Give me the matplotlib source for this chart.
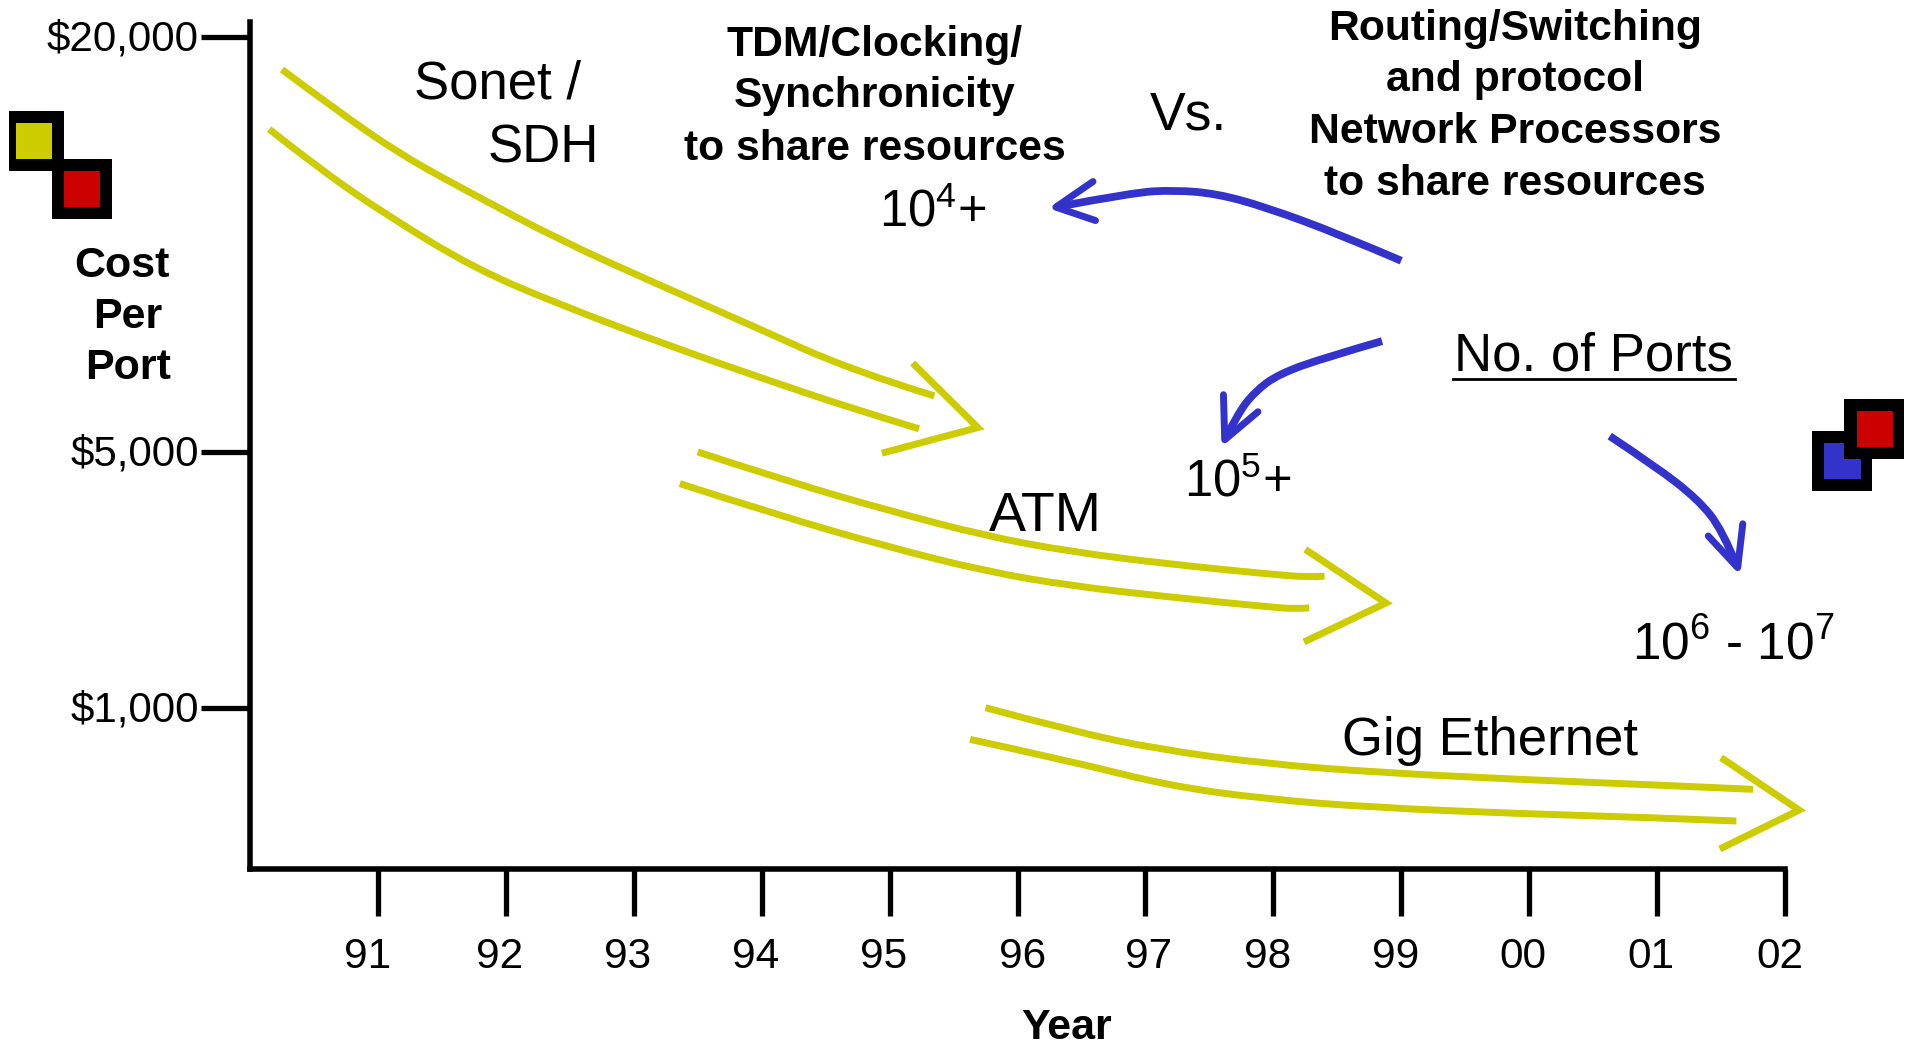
import matplotlib
matplotlib.use('Agg')
import matplotlib.pyplot as plt
from matplotlib.patches import Rectangle, PathPatch
from matplotlib.path import Path
from matplotlib.transforms import ScaledTranslation

plt.rcParams['font.family'] = ['Liberation Sans', 'DejaVu Sans']
plt.rcParams['mathtext.default'] = 'regular'

W, H = 1910, 1047
S = W / 1568

YELLOW = '#CCCC00'
BLUE = '#3333CC'
RED = '#CC0000'

# Axis data
years = [1991, 1992, 1993, 1994, 1995, 1996, 1997, 1998, 1999, 2000, 2001, 2002]
year_labels = ['91', '92', '93', '94', '95', '96', '97', '98', '99', '00', '01', '02']
cost_levels = [132, 342, 683]
cost_labels = ['$1,000', '$5,000', '$20,000']

# Yellow bands: (year, level above the x axis)
sonet_x1 = [1990.25, 1990.67, 1991.18, 1991.70, 1992.42, 1993.18, 1993.94, 1994.70, 1995.35]
sonet_y1 = [656, 623, 586, 556, 516, 480, 445, 409, 388]
sonet_x2 = [1990.15, 1990.56, 1991.09, 1991.75, 1992.42, 1993.28, 1994.13, 1994.70, 1995.23]
sonet_y2 = [607, 573, 535, 493, 463, 429, 398, 378, 361]
sonet_head_x = [1995.18, 1995.69, 1994.94]
sonet_head_y = [415, 362, 341]

atm_x1 = [1993.50, 1994.23, 1994.99, 1995.75, 1996.42, 1997.18, 1997.94, 1998.28, 1998.40]
atm_y1 = [342, 317, 294, 273, 260, 250, 242, 239, 240]
atm_x2 = [1993.36, 1994.13, 1994.99, 1995.75, 1996.42, 1997.18, 1997.94, 1998.18, 1998.28]
atm_y2 = [316, 290, 264, 244, 232, 223, 215, 213, 214]
atm_head_x = [1998.25, 1998.88, 1998.24]
atm_head_y = [262, 218, 186]

gig_x1 = [1995.75, 1996.42, 1997.09, 1997.94, 1998.80, 1999.94, 2000.90, 2001.75]
gig_y1 = [132, 113, 98, 86, 79, 73, 69, 65]
gig_x2 = [1995.63, 1996.42, 1997.18, 1997.94, 1998.80, 1999.94, 2000.90, 2001.62]
gig_y2 = [106, 88, 68, 57, 50, 45, 42, 39]
gig_head_x = [2001.50, 2002.11, 2001.49]
gig_head_y = [91, 48, 16]

# Blue arrows
arrow1_x = [1999.00, 1998.51, 1997.94, 1997.56, 1997.23, 1996.90, 1996.30]
arrow1_y = [499, 521, 543, 554, 557, 555, 543]
arrow1_head_x = [1996.59, 1996.30, 1996.61]
arrow1_head_y = [564, 543, 532]

arrow2_x = [1998.85, 1998.42, 1998.04, 1997.85, 1997.72, 1997.62]
arrow2_y = [433, 420, 406, 391, 373, 352]
arrow2_head_x = [1997.61, 1997.62, 1997.88]
arrow2_head_y = [389, 352, 375]

arrow3_x = [2000.63, 2000.99, 2001.32, 2001.51, 2001.63]
arrow3_y = [355, 330, 303, 278, 247]
arrow3_head_x = [2001.67, 2001.63, 2001.40]
arrow3_head_y = [283, 247, 273]

# Text: label, x, baseline y (1568 view), size, bold, horizontal align
notes = [
    ('Sonet /', 340, 81, 38, False, 'left'),
    ('SDH', 400, 133, 38, False, 'left'),
    ('TDM/Clocking/', 718, 46, 30.7, True, 'center'),
    ('Synchronicity', 718, 88, 30.7, True, 'center'),
    ('to share resources', 718, 131, 30.7, True, 'center'),
    ('Vs.', 944, 106, 38.5, False, 'left'),
    ('10$^{4}$+', 722, 186, 36.5, False, 'left'),
    ('Routing/Switching', 1244, 33, 30.7, True, 'center'),
    ('and protocol', 1244, 75, 30.7, True, 'center'),
    ('Network Processors', 1244, 117, 30.7, True, 'center'),
    ('to share resources', 1244, 160, 30.7, True, 'center'),
    ('No. of Ports', 1194, 304, 38, False, 'left'),
    ('10$^{5}$+', 972, 408, 36.5, False, 'left'),
    ('ATM', 812, 436, 40, False, 'left'),
    ('10$^{6}$ - 10$^{7}$', 1340, 541, 37, False, 'left'),
    ('Gig Ethernet', 1102, 620, 38, False, 'left'),
    ('Cost', 100, 227, 31, True, 'center'),
    ('Per', 105, 269, 31, True, 'center'),
    ('Port', 105, 311, 31, True, 'center'),
    ('Year', 876, 853, 31, True, 'center'),
]

# Shift of each year label from its tick, in pixels of the full picture
label_shift = [-10, -6, -6, -6, -6, 5, 3, -6, -6, -6, -6, -5]

# Icons: x, y, w, h in full pixels, colour (drawn in this order)
icons = [
    (9, 111, 55, 60, 'black'), (16, 123, 36, 36, YELLOW),
    (52, 159, 60, 60, 'black'), (64, 171, 36, 36, RED),
    (1812, 431, 60, 60, 'black'), (1824, 443, 37, 36, BLUE),
    (1844, 399, 60, 60, 'black'), (1857, 411, 36, 36, RED),
]


def smooth_path(xs, ys):
    # quadratic segments between midpoints, so the hand drawn curves have no corners
    pts = list(zip(xs, ys))
    verts = [pts[0]]
    codes = [Path.MOVETO]
    for i in range(1, len(pts) - 1):
        if i == len(pts) - 2:
            end = pts[-1]
        else:
            end = ((pts[i][0] + pts[i + 1][0]) / 2, (pts[i][1] + pts[i + 1][1]) / 2)
        verts += [pts[i], end]
        codes += [Path.CURVE3, Path.CURVE3]
    return Path(verts, codes)


fig = plt.figure(figsize=(W / 100, H / 100), dpi=100)
ax = fig.add_axes([250 / W, 1 - 868.5 / H, (1785 - 250) / W, (868.5 - 22) / H])
ax.set_xlim(1990, 2002)
ax.set_ylim(0, 695)
ax.patch.set_visible(False)

ax.spines['top'].set_visible(False)
ax.spines['right'].set_visible(False)
ax.spines['left'].set_linewidth(4)
ax.spines['bottom'].set_linewidth(4)

ax.set_xticks(years, year_labels)
ax.set_yticks(cost_levels, cost_labels)
ax.tick_params(axis='x', length=34, width=3.8, labelsize=30.5, pad=15, color='black')
ax.tick_params(axis='y', length=35, width=3.8, labelsize=30.3, pad=2, color='black')
for lab, dx in zip(ax.get_xticklabels(), label_shift):
    lab.set_transform(lab.get_transform() + ScaledTranslation(dx / 100, 0, fig.dpi_scale_trans))
for lab in ax.get_yticklabels():
    lab.set_transform(lab.get_transform() + ScaledTranslation(0, 1.5 / 100, fig.dpi_scale_trans))

# Yellow bands
for xs, ys in [(sonet_x1, sonet_y1), (sonet_x2, sonet_y2),
               (atm_x1, atm_y1), (atm_x2, atm_y2),
               (gig_x1, gig_y1), (gig_x2, gig_y2)]:
    ax.add_patch(PathPatch(smooth_path(xs, ys), fill=False, edgecolor=YELLOW, lw=5, clip_on=False,
                           capstyle='butt', joinstyle='round'))
for xs, ys in [(sonet_head_x, sonet_head_y), (atm_head_x, atm_head_y), (gig_head_x, gig_head_y)]:
    ax.plot(xs, ys, color=YELLOW, lw=5, clip_on=False, solid_capstyle='butt', solid_joinstyle='miter')

# Blue arrows
for xs, ys in [(arrow1_x, arrow1_y), (arrow2_x, arrow2_y), (arrow3_x, arrow3_y)]:
    ax.add_patch(PathPatch(smooth_path(xs, ys), fill=False, edgecolor=BLUE, lw=5.6, clip_on=False,
                           capstyle='butt', joinstyle='round'))
for xs, ys in [(arrow1_head_x, arrow1_head_y), (arrow2_head_x, arrow2_head_y), (arrow3_head_x, arrow3_head_y)]:
    ax.plot(xs, ys, color=BLUE, lw=5, clip_on=False, solid_capstyle='round', solid_joinstyle='round')

for label, x, y, size, bold, ha in notes:
    fig.text(x * S / W, 1 - y * S / H, label, fontsize=size, ha=ha, va='baseline',
             fontweight='bold' if bold else 'normal')

# Underline of "No. of Ports"
fig.add_artist(plt.Line2D([1193 * S / W, 1424 * S / W], [1 - 311 * S / H] * 2, color='black', lw=2))

for x, y, w, h, c in icons:
    fig.add_artist(Rectangle((x / W, 1 - (y + h) / H), w / W, h / H, transform=fig.transFigure,
                             facecolor=c, edgecolor='none'))

fig.savefig('out.png', dpi=100)
